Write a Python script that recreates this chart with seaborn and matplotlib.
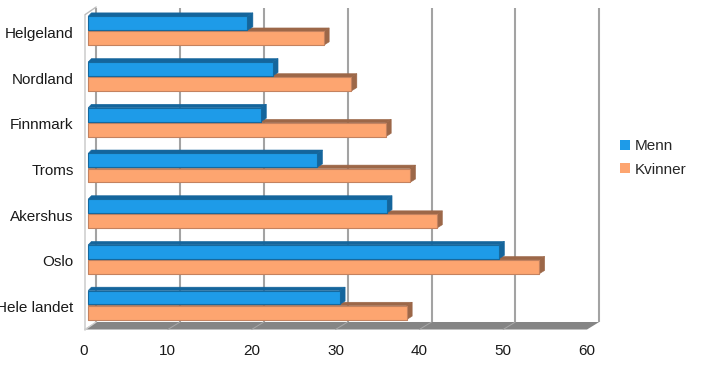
import matplotlib
matplotlib.use("Agg")
import matplotlib.pyplot as plt
import seaborn as sns
import pandas as pd
from matplotlib.patches import Polygon, Patch

regions = ["Helgeland", "Nordland", "Finnmark", "Troms", "Akershus", "Oslo", "Hele landet"]
menn = [19.0, 22.0, 20.6, 27.3, 35.6, 49.0, 30.0]
kvinner = [28.1, 31.4, 35.5, 38.4, 41.6, 53.8, 38.0]
ticks = [0, 10, 20, 30, 40, 50, 60]

W, H = 704, 365
L, R, T, B = 84, 587, 9.5, 329.5
PX = (R - L) / 60
PY = (B - T) / 7
C_BLUE, C_ORANGE = "#1e9be8", "#fda570"
EDGE = {"Menn": "#15699f", "Kvinner": "#c4825f"}
DARK = {"Menn": "#14659c", "Kvinner": "#9c6748"}

sns.set_theme(style="white")
plt.rcParams["font.family"] = ["Liberation Sans", "DejaVu Sans"]

fig = plt.figure(figsize=(W / 100, H / 100), dpi=100)
ax = fig.add_axes([L / W, 1 - B / H, (R - L) / W, (B - T) / H])

df = pd.DataFrame({
    "region": regions * 2,
    "verdi": menn + kvinner,
    "serie": ["Menn"] * 7 + ["Kvinner"] * 7,
})
sns.barplot(data=df, y="region", x="verdi", hue="serie", order=regions,
            hue_order=["Menn", "Kvinner"], palette=[C_BLUE, C_ORANGE], saturation=1,
            width=0.66, gap=0.08, legend=False, ax=ax, orient="y")
containers = list(zip(["Menn", "Kvinner"], ax.containers))

ax.set_xlim(0, 60)
ax.set_ylim(6.5, -0.5)
for s in ax.spines.values():
    s.set_visible(False)

# back wall offset (pixels converted to data units)
bx, by = 12.2 / PX, 7.5 / PY
y_front, y_top = 6.5, -0.5 + 5 / PY
# floor
ax.add_patch(Polygon([(0, y_front), (60, y_front), (60 + bx, y_front - by), (0 + bx, y_front - by)],
                     closed=True, fc="#858585", ec="none", clip_on=False, zorder=1))
for t in ticks[1:-1]:
    ax.plot([t, t + bx], [y_front, y_front - by], color="#a8a8a8", lw=0.7, clip_on=False, zorder=1.1)
# gridlines on back wall
for t in ticks:
    ax.plot([t + bx, t + bx], [y_front - by, y_top - by + 0.02], color="#a3a3a3", lw=1.5,
            clip_on=False, zorder=1.2, solid_capstyle="butt")
# left wall
ax.plot([0.15, 0.15], [y_front, y_top], color="#cfcfcf", lw=1.2, clip_on=False, zorder=1.2)
ax.plot([0.15, bx], [y_top, y_top - by], color="#bdbdbd", lw=1, clip_on=False, zorder=1.2)
ax.plot([0.15, bx], [y_front, y_front - by], color="#cfcfcf", lw=1, clip_on=False, zorder=1.2)

# extrude the bars
shift_x = 4.2 / PX
shift_y = -1.6 / PY
dx, dy = 5.4 / PX, 3.4 / PY
for name, cont in containers:
    for p in cont.patches:
        p.set_x(p.get_x() + shift_x)
        p.set_y(p.get_y() + shift_y)
        x0, x1 = p.get_x(), p.get_x() + p.get_width()
        y0, y1 = p.get_y(), p.get_y() + p.get_height()
        z = 3 + round(p.get_y()) * 0.5 + (0.2 if name == "Menn" else 0)
        ax.add_patch(Polygon([(x0, y0), (x1, y0), (x1 + dx, y0 - dy), (x0 + dx * 0.6, y0 - dy)],
                             closed=True, fc=DARK[name], ec=DARK[name], lw=0.4, zorder=z))
        ax.add_patch(Polygon([(x1, y0), (x1 + dx, y0 - dy), (x1 + dx, y1 - dy), (x1, y1)],
                             closed=True, fc=DARK[name], ec=DARK[name], lw=0.4, zorder=z))
        p.set_edgecolor(EDGE[name])
        p.set_linewidth(0.8)
        p.set_joinstyle("round")
        p.set_zorder(z + 0.05)

ax.set_xticks(ticks)
ax.set_xlabel("")
ax.set_ylabel("")
ax.tick_params(axis="x", length=0, pad=10.5, labelsize=11, labelcolor="#1a1a1a")
ax.tick_params(axis="y", length=0, pad=7.5, labelsize=11, labelcolor="#1a1a1a")
ax.patch.set_alpha(0)

handles = [Patch(fc=C_BLUE, ec="none", label="Menn"), Patch(fc=C_ORANGE, ec="none", label="Kvinner")]
fig.legend(handles=handles, loc="center left", bbox_to_anchor=(620 / W, 1 - 158 / H),
           frameon=False, fontsize=11, handlelength=0.65, handleheight=0.65,
           handletextpad=0.3, labelspacing=0.6, borderpad=0, borderaxespad=0)

fig.savefig("out.png", dpi=100)
